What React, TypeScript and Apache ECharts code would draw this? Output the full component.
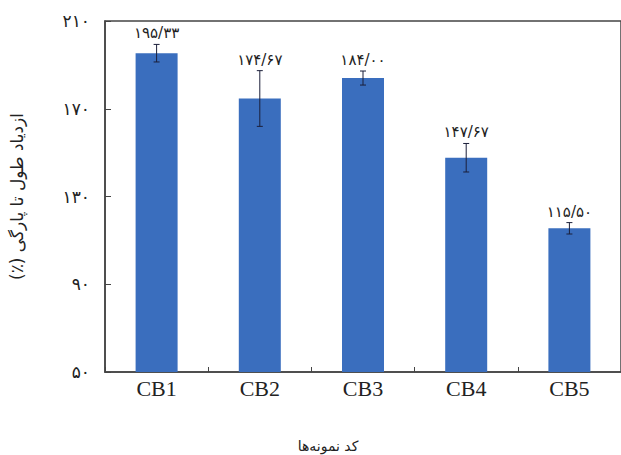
import React, { useEffect, useRef } from "react";
import * as echarts from "echarts";

const categories = ["CB1", "CB2", "CB3", "CB4", "CB5"];
const values = [195.33, 174.67, 184.0, 147.67, 115.5];
const errors = [4, 12.7, 3.2, 6.5, 2.6];
const yMin = 50;
const yMax = 210;
const yInterval = 40;
const yTitle = "ازدیاد طول تا پارگی (٪)";
const xTitle = "کد نمونه‌ها";

const faDigits = ["۰", "۱", "۲", "۳", "۴", "۵", "۶", "۷", "۸", "۹"];
const toFa = (s: string) => s.replace(/[0-9]/g, (d) => faDigits[Number(d)]);
const fmtLabel = (v: number) => toFa(v.toFixed(2).replace(".", "/"));
const rtl = (s: string) => "\u202B" + s + "\u202C\u200F";

export default function App() {
  const ref = useRef<HTMLDivElement>(null);
  useEffect(() => {
    document.body.style.margin = "0";
    const chart = echarts.init(ref.current!, null, { renderer: "svg" });
    const faFont = "DejaVu Sans";
    chart.setOption({
      animation: false,
      grid: {
        left: 103,
        right: -6,
        top: 21,
        bottom: 83,
        show: true,
        borderColor: "#444",
        borderWidth: 1.5,
        backgroundColor: "transparent",
      },
      xAxis: {
        type: "category",
        data: categories,
        axisLine: { lineStyle: { color: "#444", width: 1.5 } },
        axisTick: { show: true, inside: true, length: 5, alignWithLabel: false, lineStyle: { color: "#444" } },
        axisLabel: {
          fontFamily: "Liberation Serif",
          fontSize: 22,
          color: "#222",
          margin: 5,
        },
      },
      yAxis: {
        type: "value",
        min: yMin,
        max: yMax,
        interval: yInterval,
        name: rtl(yTitle),
        nameLocation: "middle",
        nameRotate: 90,
        nameGap: 80,
        nameTextStyle: { fontFamily: faFont, fontSize: 17, color: "#222" },
        splitLine: { show: false },
        axisLine: { show: true, lineStyle: { color: "#444", width: 1.5 } },
        axisTick: { show: true, inside: true, length: 6, lineStyle: { color: "#444" } },
        axisLabel: {
          fontFamily: faFont,
          fontSize: 17,
          color: "#222",
          margin: 15,
          formatter: (v: number) => toFa(String(v)),
        },
      },
      graphic: [
        {
          type: "text",
          x: 328,
          y: 446,
          style: {
            text: rtl(xTitle),
            fontFamily: faFont,
            fontSize: 14,
            fill: "#222",
            align: "center",
            verticalAlign: "middle",
          },
        },
      ],
      series: [
        {
          type: "bar",
          data: values,
          barWidth: 42,
          itemStyle: { color: "#3a6ebe" },
        },
        {
          type: "custom",
          data: values.map((v, i) => [i, v, errors[i]]),
          z: 10,
          renderItem: (params: any, api: any) => {
            const i = api.value(0);
            const v = api.value(1);
            const e = api.value(2);
            const top = api.coord([i, v + e]);
            const bot = api.coord([i, v - e]);
            const cap = 3;
            const st = { stroke: "#1b1f3a", lineWidth: 1 };
            return {
              type: "group",
              children: [
                { type: "line", shape: { x1: top[0], y1: top[1], x2: bot[0], y2: bot[1] }, style: st },
                { type: "line", shape: { x1: top[0] - cap, y1: top[1], x2: top[0] + cap, y2: top[1] }, style: st },
                { type: "line", shape: { x1: bot[0] - cap, y1: bot[1], x2: bot[0] + cap, y2: bot[1] }, style: st },
                {
                  type: "text",
                  x: top[0],
                  y: top[1] - 11,
                  style: {
                    text: fmtLabel(v),
                    fontFamily: faFont,
                    fontSize: 15,
                    fill: "#222",
                    align: "center",
                    verticalAlign: "middle",
                  },
                },
              ],
            };
          },
        },
      ],
    });
    return () => chart.dispose();
  }, []);
  return <div ref={ref} style={{ width: 621, height: 455 }} />;
}
